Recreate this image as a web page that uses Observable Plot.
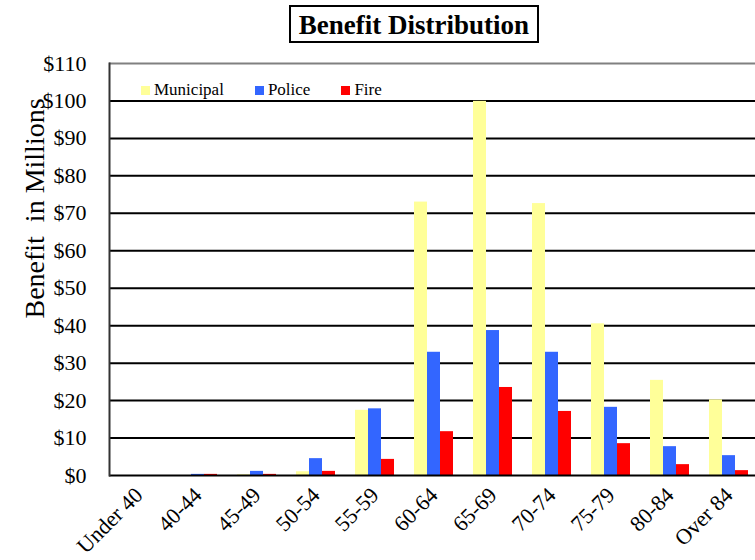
<!DOCTYPE html>
<html><head><meta charset="utf-8">
<script src="https://cdn.jsdelivr.net/npm/d3@7"></script>
<script src="https://cdn.jsdelivr.net/npm/@observablehq/plot@0.6"></script>
<style>
body{margin:0;background:#fff;font-family:"Liberation Serif","Times New Roman",serif;}
#wrap{position:relative;width:755px;height:560px;overflow:hidden;background:#fff;}
#title{position:relative;height:48px;}
#title div{position:absolute;left:289px;top:5px;width:246px;height:34px;border:2px solid #000;font-weight:bold;font-size:27px;text-align:center;line-height:36px;color:#000;white-space:nowrap;}
#legend{position:absolute;top:80px;left:141px;display:flex;align-items:center;font-size:17px;color:#000;height:20px;}
#legend .item{display:flex;align-items:center;margin-right:31px;}
#legend .sw{width:9px;height:9px;margin-right:4px;display:inline-block;}
</style>
</head><body>
<div id="wrap">
  <div id="title"><div>Benefit Distribution</div></div>
  <div id="chart"></div>
  <div id="legend"></div>
</div>
<script>
const categories = ["Under 40","40-44","45-49","50-54","55-59","60-64","65-69","70-74","75-79","80-84","Over 84"];
const series = ["Municipal","Police","Fire"];
const municipal = [0, 0, 0.2, 1.0, 17.4, 73.0, 99.9, 72.6, 40.5, 25.4, 20.2];
const police    = [0, 0.3, 1.1, 4.5, 17.8, 32.9, 38.7, 32.9, 18.2, 7.7, 5.3];
const fire      = [0, 0.3, 0.3, 1.1, 4.3, 11.7, 23.5, 17.1, 8.5, 2.9, 1.3];
const colors = ["#FFFF99","#3366FF","#FF0000"];
const yTicks = [0,10,20,30,40,50,60,70,80,90,100,110];
const yLabel = "Benefit  in Millions";

const seriesValues = [municipal, police, fire];
const rows = [];
categories.forEach((c, i) => series.forEach((s, j) => rows.push({cat: c, series: s, value: seriesValues[j][i]})));

const gridLines = yTicks.filter(d => d > 0 && d < 110);

const chart = Plot.plot({
  width: 755, height: 512,
  marginTop: 15, marginBottom: 85, marginLeft: 106, marginRight: -5,
  style: {fontFamily: "'Liberation Serif','Times New Roman',serif", fontSize: "22px", color: "#000", background: "#fff"},
  fx: {domain: categories, padding: 0, label: null, tickSize: 0, tickPadding: 16, tickRotate: -45},
  x: {domain: series, paddingInner: 0, paddingOuter: 0.75, axis: null},
  y: {domain: [0, 110], ticks: yTicks, tickFormat: d => "$" + d, label: null, tickSize: 0, tickPadding: 23},
  color: {domain: series, range: colors},
  marks: [
    Plot.ruleY(gridLines, {stroke: "#000", strokeWidth: 2}),
    Plot.ruleY([110], {stroke: "#808080", strokeWidth: 2}),
    Plot.barY(rows, {fx: "cat", x: "series", y: "value", fill: "series"}),
    Plot.ruleY([0], {stroke: "#000", strokeWidth: 2}),
    Plot.frame({anchor: "left", stroke: "#333", strokeWidth: 2, facet: "super"}),
    Plot.text([yLabel], {frameAnchor: "left", textAnchor: "middle", rotate: -90, dx: -74, dy: -61, fontSize: 28, facet: "super"})
  ]
});
document.getElementById("chart").appendChild(chart);

const legend = document.getElementById("legend");
series.forEach((s, i) => {
  const item = document.createElement("div");
  item.className = "item";
  const sw = document.createElement("span");
  sw.className = "sw";
  sw.style.background = colors[i];
  const t = document.createElement("span");
  t.textContent = s;
  item.appendChild(sw); item.appendChild(t);
  legend.appendChild(item);
});
</script>
</body></html>
